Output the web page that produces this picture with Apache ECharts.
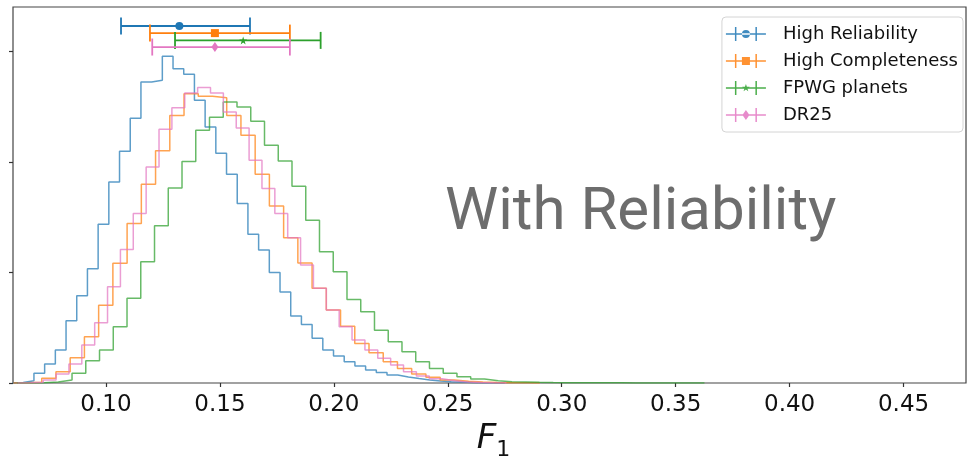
<!DOCTYPE html>
<html>
<head>
<meta charset="utf-8">
<script src="https://cdn.jsdelivr.net/npm/echarts@6/dist/echarts.min.js"></script>
<style>
html,body{margin:0;padding:0;background:#fff;}
#chart{width:969px;height:462px;}
</style>
</head>
<body>
<div id="chart"></div>
<script>
// ---- data ----
const seriesNames = ['High Reliability', 'High Completeness', 'FPWG planets', 'DR25'];
const seriesColors = ['#1f77b4', '#ff7f0e', '#2ca02c', '#e377c2'];

// histogram bins (left edge of first bin, bin width) and densities
const blueBinStart = 0.0590, blueBinWidth = 0.004695;
const blueValues = [0.02, 0.10, 0.44, 0.86, 1.49, 2.81, 3.94, 5.16, 7.18, 9.09, 10.48, 11.97, 13.61, 13.69, 14.77, 14.21, 13.96, 12.78, 11.58, 10.39, 9.44, 8.12, 6.73, 6.01, 5.00, 4.12, 3.03, 2.65, 2.02, 1.49, 1.22, 0.96, 0.77, 0.59, 0.47, 0.36, 0.27, 0.20, 0.14, 0.09, 0.06, 0.04, 0.02, 0.01, 0.01, 0.005];

const orangeBinStart = 0.05932, orangeBinWidth = 0.006244;
const orangeValues = [0.01, 0.03, 0.21, 0.51, 1.14, 2.09, 3.52, 5.41, 7.21, 8.99, 10.50, 12.10, 13.08, 12.96, 12.90, 12.10, 11.20, 9.44, 8.00, 6.57, 5.43, 4.28, 3.30, 2.57, 1.79, 1.37, 0.96, 0.66, 0.41, 0.26, 0.14, 0.08, 0.04, 0.02, 0.01, 0.01, 0.005];

const greenBinStart = 0.06097, greenBinWidth = 0.006033;
const greenValues = [0.005, 0.015, 0.05, 0.14, 0.44, 1.01, 1.49, 2.54, 3.83, 5.48, 7.11, 8.82, 10.02, 11.43, 12.01, 12.71, 12.48, 11.83, 10.75, 10.04, 8.90, 7.36, 5.93, 5.03, 3.78, 3.22, 2.39, 1.87, 1.41, 0.96, 0.66, 0.44, 0.28, 0.18, 0.10, 0.06, 0.045, 0.03, 0.02, 0.015, 0.01, 0.01, 0.008, 0.006, 0.005, 0.004, 0.003, 0.003, 0.002, 0.002];

const pinkBinStart = 0.06116, pinkBinWidth = 0.005647;
const pinkValues = [0.01, 0.03, 0.14, 0.41, 0.86, 1.72, 2.72, 4.35, 6.04, 7.66, 9.77, 11.47, 12.45, 13.11, 13.36, 13.11, 12.25, 11.53, 10.07, 8.79, 7.66, 6.57, 5.33, 4.28, 3.30, 2.54, 1.94, 1.49, 1.12, 0.81, 0.51, 0.32, 0.19, 0.10, 0.05, 0.02, 0.01, 0.005];

// error bars: centre, low, high, vertical position
const errCenter = [0.1322, 0.1478, 0.1602, 0.1478];
const errLow = [0.1066, 0.1193, 0.1303, 0.1203];
const errHigh = [0.1632, 0.1807, 0.1942, 0.1807];
const errY = [16.14, 15.82, 15.49, 15.19];

const xTicks = [0.10, 0.15, 0.20, 0.25, 0.30, 0.35, 0.40, 0.45];
const yTicks = [0, 5, 10, 15];

// ---- helpers ----
function stepData(start, width, values) {
  const d = [[start, 0]];
  values.forEach((v, i) => d.push([start + i * width, v]));
  d.push([start + values.length * width, 0]);
  return d;
}

const markerSymbols = [
  'circle',
  'rect',
  'path://M0,-1L0.2245,-0.309L0.9511,-0.309L0.3633,0.118L0.5878,0.809L0,0.382L-0.5878,0.809L-0.3633,0.118L-0.9511,-0.309L-0.2245,-0.309Z',
  'diamond'
];
const markerSizes = [8, 8, 8, [7, 10]];

const iconBase = 'M0,6.3h40v1.4H0z M9,0h1.5v14H9z M29.5,0h1.5v14h-1.5z ';
const legendIcons = [
  'path://' + iconBase + 'M16,7a4,4 0 1,0 8,0a4,4 0 1,0 -8,0z',
  'path://' + iconBase + 'M16,3h8v8h-8z',
  'path://' + iconBase + 'M20,3L20.94,5.71L23.8,5.76L21.52,7.49L22.35,10.24L20,8.6L17.65,10.24L18.48,7.49L16.2,5.76L19.06,5.71Z',
  'path://' + iconBase + 'M20,2L23.5,7L20,12L16.5,7Z'
];

const hist = [
  stepData(blueBinStart, blueBinWidth, blueValues),
  stepData(orangeBinStart, orangeBinWidth, orangeValues),
  stepData(greenBinStart, greenBinWidth, greenValues),
  stepData(pinkBinStart, pinkBinWidth, pinkValues)
];

const series = [];
// error bar series
seriesNames.forEach((name, i) => {
  series.push({
    name: name,
    type: 'custom',
    color: seriesColors[i],
    z: 5,
    data: [[errCenter[i], errLow[i], errHigh[i], errY[i]]],
    encode: { x: [0, 1, 2], y: 3 },
    renderItem: function (params, api) {
      const y = api.value(3);
      const l = api.coord([api.value(1), y]);
      const h = api.coord([api.value(2), y]);
      const color = api.visual('color');
      const cap = 8.5;
      const st = { stroke: color, lineWidth: 1.8 };
      return {
        type: 'group',
        children: [
          { type: 'line', shape: { x1: l[0], y1: l[1], x2: h[0], y2: h[1] }, style: st },
          { type: 'line', shape: { x1: l[0], y1: l[1] - cap, x2: l[0], y2: l[1] + cap }, style: st },
          { type: 'line', shape: { x1: h[0], y1: h[1] - cap, x2: h[0], y2: h[1] + cap }, style: st }
        ]
      };
    }
  });
});
// markers
seriesNames.forEach((name, i) => {
  series.push({
    name: name,
    type: 'scatter',
    z: 6,
    symbol: markerSymbols[i],
    symbolSize: markerSizes[i],
    itemStyle: { color: seriesColors[i], opacity: 1 },
    data: [[errCenter[i], errY[i]]]
  });
});
// histograms
seriesNames.forEach((name, i) => {
  series.push({
    name: name,
    type: 'line',
    step: 'end',
    symbol: 'none',
    z: 3,
    color: seriesColors[i],
    lineStyle: { color: seriesColors[i], width: 1.5, opacity: 0.72 },
    data: hist[i]
  });
});

const chart = echarts.init(document.getElementById('chart'), null, { renderer: 'canvas' });
chart.setOption({
  animation: false,
  backgroundColor: '#fff',
  grid: {
    left: 13, right: 3, top: 7, bottom: 79,
    containLabel: false,
    outerBoundsMode: 'none',
    show: true, borderColor: '#444', borderWidth: 1.2, backgroundColor: 'transparent'
  },
  xAxis: {
    type: 'value',
    min: 0.0592,
    max: 0.4774,
    axisLine: { show: false },
    splitLine: { show: false },
    axisTick: { show: true, customValues: xTicks, length: 4, lineStyle: { color: '#333', width: 1.2 } },
    axisLabel: {
      customValues: xTicks,
      formatter: v => v.toFixed(2),
      fontFamily: 'DejaVu Sans',
      fontSize: 23,
      color: '#111',
      margin: 11
    },
    name: '{f|F}{s|1}',
    nameLocation: 'middle',
    nameGap: 33,
    nameTextStyle: {
      rich: {
        f: { fontFamily: 'DejaVu Sans', fontStyle: 'italic', fontSize: 34, color: '#111', padding: [0, 0, 0, 8] },
        s: { fontFamily: 'DejaVu Sans', fontSize: 22, color: '#111', padding: [22, 0, 0, 0] }
      }
    }
  },
  yAxis: {
    type: 'value',
    min: 0,
    max: 17,
    axisLine: { show: false },
    splitLine: { show: false },
    axisTick: { show: true, customValues: yTicks, length: 4, lineStyle: { color: '#333', width: 1.2 } },
    axisLabel: { show: false }
  },
  legend: {
    orient: 'vertical',
    right: 6,
    top: 17,
    itemWidth: 40,
    itemHeight: 14,
    itemGap: 9,
    padding: [8, 5, 8, 4],
    borderColor: '#d4d4d4',
    borderWidth: 1,
    borderRadius: 4,
    backgroundColor: 'rgba(255,255,255,0.85)',
    textStyle: { fontFamily: 'DejaVu Sans', fontSize: 18, color: '#111', padding: [0, 0, 0, 12] },
    data: seriesNames.map((n, i) => ({ name: n, icon: legendIcons[i], itemStyle: { color: seriesColors[i], opacity: 0.85 } }))
  },
  graphic: [{
    type: 'text',
    x: 445,
    y: 214,
    z: 10,
    style: { text: 'With Reliability', fill: '#6d6d6d', fontFamily: 'Roboto', fontSize: 60, verticalAlign: 'middle', align: 'left' }
  }],
  series: series
});
</script>
</body>
</html>
